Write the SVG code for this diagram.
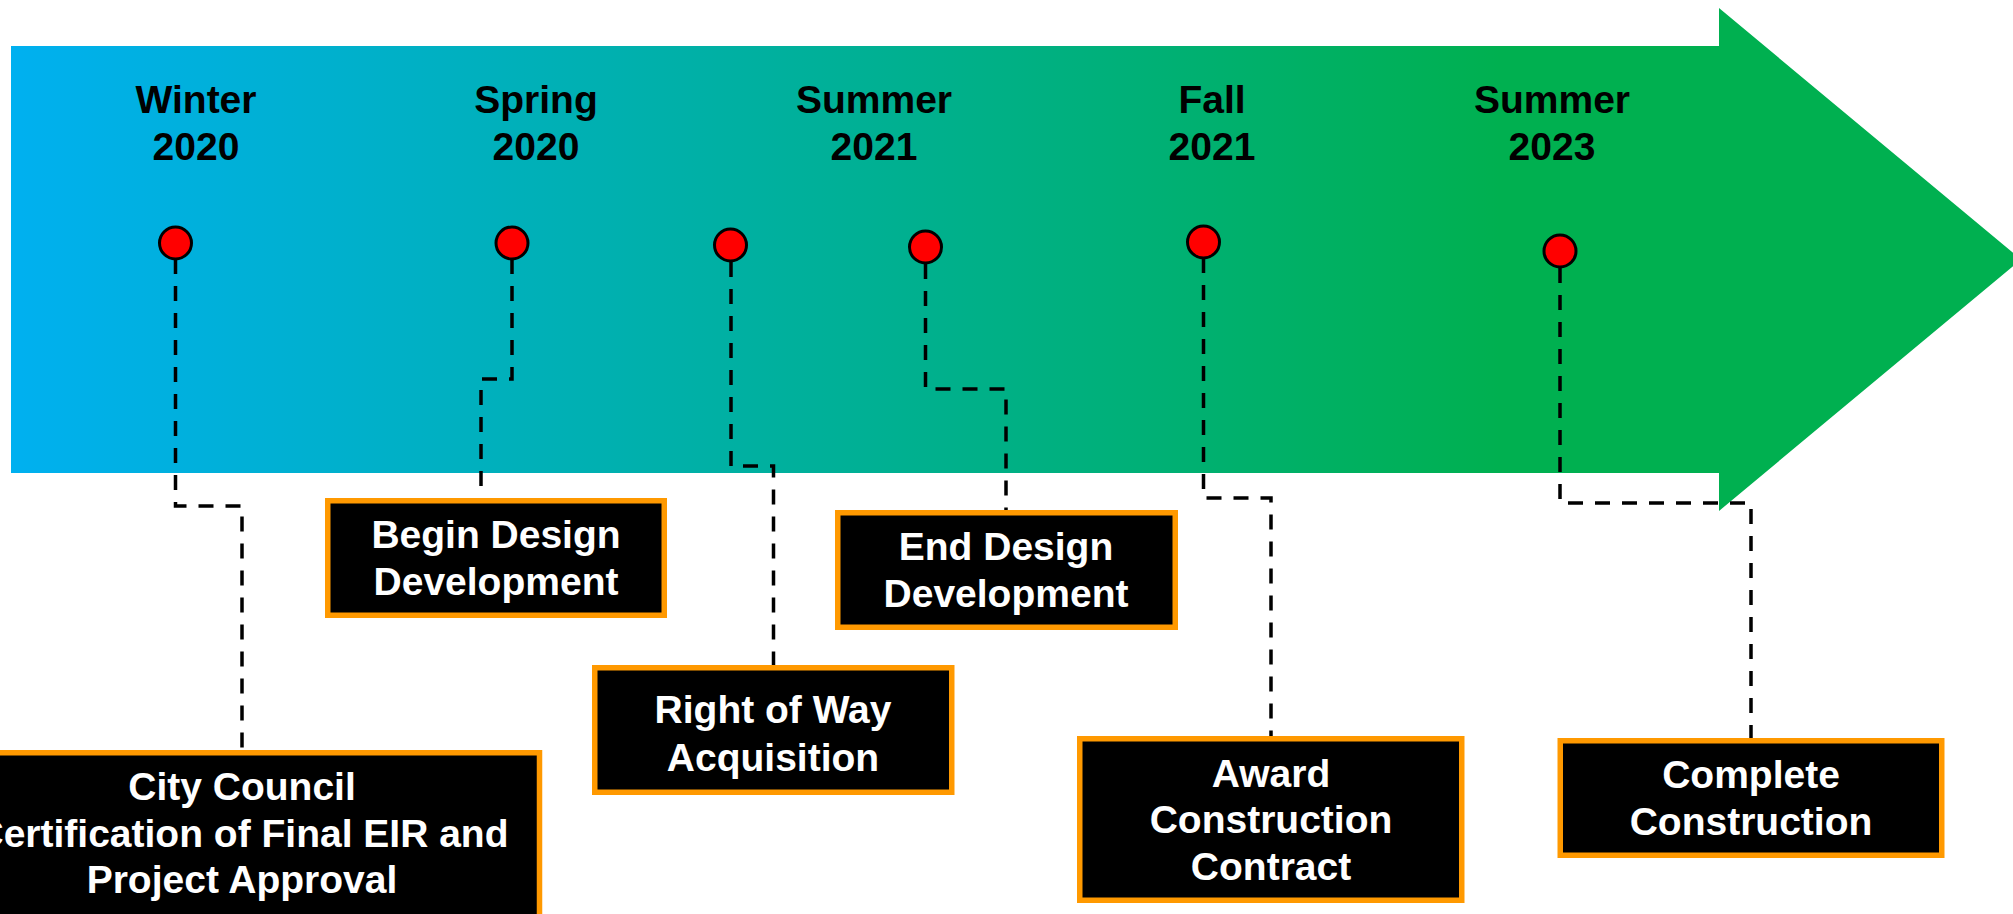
<svg xmlns="http://www.w3.org/2000/svg" width="2013" height="914" viewBox="0 0 2013 914">
<style>
.lbl{font-family:"Liberation Sans",Arial,sans-serif;font-weight:bold;font-size:39px;fill:#000;text-anchor:middle}
.btxt{font-family:"Liberation Sans",Arial,sans-serif;font-weight:bold;font-size:39px;fill:#fff;text-anchor:middle}
.box{fill:#000;stroke:#FF9900;stroke-width:5.5}
.dot{fill:#FF0000;stroke:#000;stroke-width:3}
.conn{fill:none;stroke:#000;stroke-width:3.5;stroke-dasharray:15 12}
</style>
<defs>
<linearGradient id="grad" gradientUnits="userSpaceOnUse" x1="11" y1="0" x2="1500" y2="0">
<stop offset="0" stop-color="#00B0F0"/>
<stop offset="1" stop-color="#00B050"/>
</linearGradient>
</defs>
<rect width="2013" height="914" fill="#FFFFFF"/>
<polygon id="arrow" points="11,46 1719,46 1719,8 2021,259.5 1719,511 1719,473 11,473" fill="url(#grad)"/>
<g id="dates">
<text class="lbl" x="196" y="113">Winter</text><text class="lbl" x="196" y="160">2020</text>
<text class="lbl" x="536" y="113">Spring</text><text class="lbl" x="536" y="160">2020</text>
<text class="lbl" x="874" y="113">Summer</text><text class="lbl" x="874" y="160">2021</text>
<text class="lbl" x="1212" y="113">Fall</text><text class="lbl" x="1212" y="160">2021</text>
<text class="lbl" x="1552" y="113">Summer</text><text class="lbl" x="1552" y="160">2023</text>
</g>
<g id="connectors">
<polyline class="conn" points="175.5,259 175.5,506 242,506 242,752"/>
<polyline class="conn" points="512,259 512,379 481,379 481,500"/>
<polyline class="conn" points="731,262 731,466 773.5,466 773.5,665"/>
<polyline class="conn" points="925.5,264 925.5,389 1006,389 1006,512"/>
<polyline class="conn" points="1203.5,258 1203.5,498 1271,498 1271,737"/>
<polyline class="conn" points="1560,268 1560,503 1751,503 1751,739"/>
</g>
<g id="dots">
<circle class="dot" cx="175.5" cy="243" r="16"/>
<circle class="dot" cx="512" cy="243" r="16"/>
<circle class="dot" cx="730.5" cy="245" r="16"/>
<circle class="dot" cx="925.5" cy="247" r="16"/>
<circle class="dot" cx="1203.5" cy="242" r="16"/>
<circle class="dot" cx="1560" cy="251" r="16"/>
</g>
<g id="node-council">
<rect class="box" x="-56" y="752.75" width="595.5" height="180"/>
<text class="btxt" x="242" y="800">City Council</text>
<text class="btxt" x="242" y="847">Certification of Final EIR and</text>
<text class="btxt" x="242" y="893">Project Approval</text>
</g>
<g id="node-begin">
<rect class="box" x="327.75" y="500.75" width="336.5" height="114.5"/>
<text class="btxt" x="496" y="548">Begin Design</text>
<text class="btxt" x="496" y="595">Development</text>
</g>
<g id="node-row">
<rect class="box" x="594.75" y="667.75" width="357" height="124.5"/>
<text class="btxt" x="773" y="723">Right of Way</text>
<text class="btxt" x="773" y="771">Acquisition</text>
</g>
<g id="node-end">
<rect class="box" x="837.75" y="512.75" width="337.5" height="114.5"/>
<text class="btxt" x="1006" y="560">End Design</text>
<text class="btxt" x="1006" y="607">Development</text>
</g>
<g id="node-award">
<rect class="box" x="1079.75" y="738.75" width="382" height="161.5"/>
<text class="btxt" x="1271" y="787">Award</text>
<text class="btxt" x="1271" y="833">Construction</text>
<text class="btxt" x="1271" y="880">Contract</text>
</g>
<g id="node-complete">
<rect class="box" x="1560.25" y="740.75" width="381.5" height="114.5"/>
<text class="btxt" x="1751" y="788">Complete</text>
<text class="btxt" x="1751" y="835">Construction</text>
</g>
</svg>
